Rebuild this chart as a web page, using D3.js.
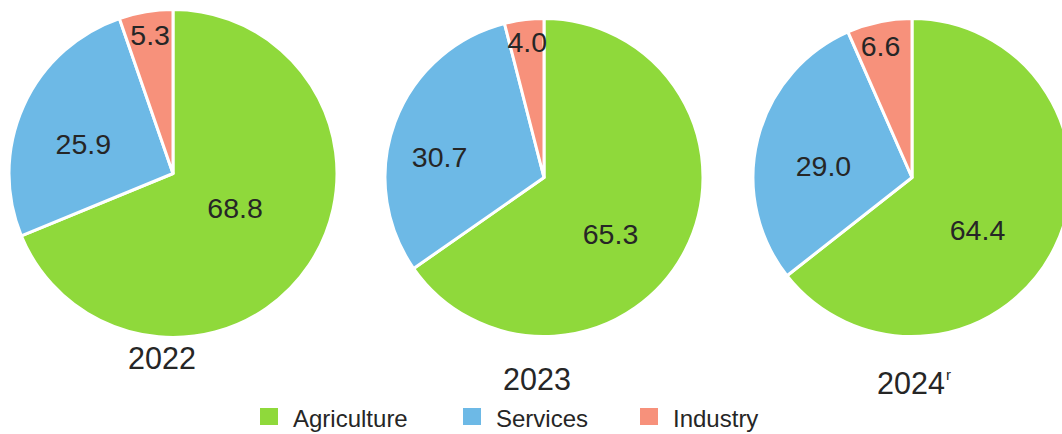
<!DOCTYPE html>
<html><head><meta charset="utf-8">
<script src="https://cdn.jsdelivr.net/npm/d3@7"></script>
<style>
html,body{margin:0;padding:0;background:#fff;}
svg{display:block;font-family:"Liberation Sans",Arial,sans-serif;}
</style></head>
<body>
<svg id="chart" width="1062" height="434"></svg>
<script>
// ---- data ----
const categories = ["Agriculture", "Services", "Industry"];
const years = ["2022", "2023", "2024"];
const yearMarks = ["", "", "r"];
const agriculture = [68.8, 65.3, 64.4];
const services = [25.9, 30.7, 29.0];
const industry = [5.3, 4.0, 6.6];

// ---- layout / style ----
const colors = ["#8fd93b", "#6db9e6", "#f7917b"];
const pies = [
  {cx: 173, cy: 173.5, r: 164, lx: 162, ly: 369},
  {cx: 544, cy: 177.5, r: 159, lx: 537, ly: 390},
  {cx: 912, cy: 177.5, r: 159, lx: 911, ly: 394}
];
const labelFrac = [0.5, 0.6, 0.84];
// small label nudges (px) per pie, per slice
const nudges = [
  [[-6, -11], [0, 11], [0, -3]],
  [[-4, 19], [-15, 12], [0, -3]],
  [[-6, 17], [4, 11], [-4, -1]]
];

const svg = d3.select("#chart");
const color = d3.scaleOrdinal().domain(categories).range(colors);
const pie = d3.pie().sort(null).value(d => d.value);

years.forEach((yr, i) => {
  const data = [
    {cat: categories[0], value: agriculture[i]},
    {cat: categories[1], value: services[i]},
    {cat: categories[2], value: industry[i]}
  ];
  const P = pies[i];
  const arc = d3.arc().innerRadius(0).outerRadius(P.r);
  const g = svg.append("g").attr("transform", `translate(${P.cx},${P.cy})`);
  const arcs = pie(data);
  g.selectAll("path").data(arcs).join("path")
    .attr("d", arc)
    .attr("fill", d => color(d.data.cat))
    .attr("stroke", "#fff")
    .attr("stroke-width", 3)
    .attr("stroke-linejoin", "round");
  g.selectAll("text.val").data(arcs).join("text")
    .attr("class", "val")
    .attr("transform", (d, k) => {
      const rr = P.r * labelFrac[k];
      const c = d3.arc().innerRadius(rr).outerRadius(rr).centroid(d);
      return `translate(${c[0] + nudges[i][k][0]},${c[1] + nudges[i][k][1]})`;
    })
    .attr("text-anchor", "middle")
    .attr("dy", "0.36em")
    .attr("font-size", 28.5)
    .attr("fill", "#262626")
    .text(d => d.data.value.toFixed(1));
  const t = svg.append("text")
    .attr("x", P.lx).attr("y", P.ly)
    .attr("text-anchor", "middle")
    .attr("font-size", 30.5)
    .attr("fill", "#262626")
    .text(yr);
  if (yearMarks[i]) {
    const bb = t.node().getBBox();
    svg.append("text")
      .attr("x", bb.x + bb.width + 1).attr("y", P.ly - 14)
      .attr("font-size", 15)
      .attr("fill", "#262626")
      .text(yearMarks[i]);
  }
});

// ---- legend ----
const legendX = [260, 463, 640];
const lg = svg.append("g");
categories.forEach((c, k) => {
  lg.append("rect").attr("x", legendX[k]).attr("y", 408)
    .attr("width", 18).attr("height", 17).attr("fill", color(c));
  lg.append("text").attr("x", legendX[k] + 33).attr("y", 427)
    .attr("font-size", 24).attr("fill", "#262626").text(c);
});
</script>
</body></html>
